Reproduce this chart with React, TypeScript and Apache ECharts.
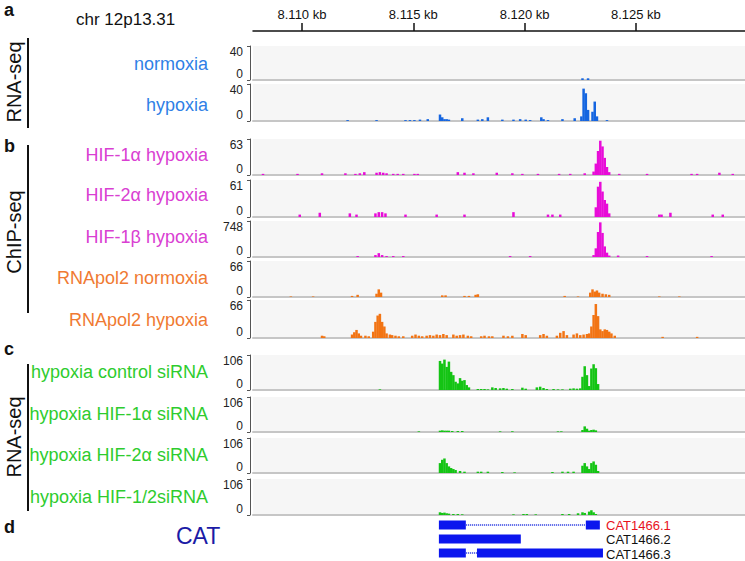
import React, { useEffect, useRef } from "react";
import * as echarts from "echarts";

// ---------- data (genomic position in kb, signal value) ----------
const axisTicksKb = [8110, 8115, 8120, 8125];
const trackNames = [
  "normoxia",
  "hypoxia",
  "HIF-1α hypoxia",
  "HIF-2α hypoxia",
  "HIF-1β hypoxia",
  "RNApol2 normoxia",
  "RNApol2 hypoxia",
  "hypoxia control siRNA",
  "hypoxia HIF-1α siRNA",
  "hypoxia HIF-2α siRNA",
  "hypoxia HIF-1/2siRNA",
];
const trackMax = [40, 40, 63, 61, 748, 66, 66, 106, 106, 106, 106];

const rnaNormoxia = [[8122.6, 2], [8122.85, 2]];
const rnaHypoxia = [
  [8112.05, 1], [8113.35, 1], [8114.65, 1], [8114.85, 1], [8115.05, 1], [8115.3, 1.5], [8115.65, 2],
  [8116.2, 7], [8116.3, 4], [8116.4, 2], [8116.5, 2], [8116.6, 1.5], [8117.2, 3],
  [8117.9, 1.5], [8118.1, 2], [8118.35, 4], [8119.0, 1.5], [8119.5, 1.5], [8119.8, 2], [8120.05, 1.5], [8120.25, 1],
  [8120.75, 4], [8120.85, 2], [8121.05, 1], [8121.7, 2], [8122.25, 3],
  [8122.55, 5], [8122.65, 35], [8122.75, 30], [8122.85, 12],
  [8123.05, 10], [8123.15, 21], [8123.25, 5], [8123.7, 1],
];
const hif1a = [
  [8108.25, 2], [8109.8, 2], [8110.9, 3], [8111.95, 3], [8112.4, 2], [8112.6, 3], [8112.8, 5], [8113.35, 4],
  [8113.5, 5], [8113.65, 4], [8113.8, 3], [8114.1, 2], [8114.3, 2], [8114.55, 2], [8115.05, 2], [8115.2, 2],
  [8117.0, 5], [8117.3, 4], [8117.7, 3], [8118.75, 4], [8119.45, 3], [8119.9, 2], [8120.6, 2], [8121.55, 2],
  [8122.05, 2], [8122.7, 3],
  [8123.1, 6], [8123.2, 20], [8123.3, 42], [8123.4, 60], [8123.5, 50], [8123.6, 30], [8123.7, 14], [8123.8, 5],
  [8124.25, 2], [8125.5, 2], [8127.5, 2], [8127.75, 2], [8128.75, 4], [8129.35, 2],
];
const hif2a = [
  [8109.9, 4], [8110.8, 7], [8112.15, 6], [8112.45, 4], [8113.3, 6], [8113.45, 8], [8113.6, 8], [8113.75, 6],
  [8114.65, 4], [8116.05, 4], [8117.3, 4], [8119.5, 8], [8121.05, 4], [8121.25, 4], [8121.6, 4],
  [8123.2, 16], [8123.3, 50], [8123.4, 58], [8123.5, 42], [8123.6, 28], [8123.7, 22], [8123.8, 6],
  [8126.05, 4], [8126.15, 4], [8126.55, 7], [8128.45, 4], [8128.9, 4],
];
const hif1b = [
  [8112.5, 20], [8113.3, 40], [8113.45, 80], [8113.6, 40], [8113.8, 20], [8114.1, 20], [8114.55, 20],
  [8119.35, 20], [8120.25, 20],
  [8123.1, 40], [8123.2, 180], [8123.3, 520], [8123.4, 720], [8123.5, 500], [8123.6, 220], [8123.7, 90], [8123.8, 30],
  [8124.2, 30], [8125.5, 20], [8128.4, 20],
];
const pol2Normoxia = [
  [8109.5, 1], [8110.5, 1], [8112.25, 2], [8112.5, 4], [8113.35, 6], [8113.45, 14], [8113.55, 8],
  [8116.3, 3], [8116.45, 3], [8117.3, 2], [8117.5, 2], [8117.8, 4], [8117.9, 5], [8121.8, 2], [8122.4, 1],
  [8122.95, 8], [8123.05, 14], [8123.15, 10], [8123.25, 12], [8123.35, 8], [8123.5, 6], [8123.65, 5], [8123.8, 4],
  [8126.05, 1], [8126.95, 1],
];
const pol2Hypoxia = [
  [8110.9, 4], [8111.0, 3], [8112.25, 6], [8112.35, 10], [8112.45, 14], [8112.55, 8], [8112.65, 4],
  [8112.85, 4], [8113.0, 3],
  [8113.2, 11], [8113.3, 28], [8113.4, 39], [8113.5, 42], [8113.6, 28], [8113.7, 20], [8113.8, 8],
  [8113.95, 6], [8114.05, 5], [8114.2, 4], [8114.35, 3], [8114.55, 3],
  [8114.95, 4], [8115.1, 6], [8115.25, 4], [8115.4, 3], [8115.6, 4], [8115.75, 5], [8115.9, 4], [8116.05, 6], [8116.2, 5],
  [8116.35, 7], [8116.5, 5], [8116.8, 6], [8116.95, 4], [8117.1, 5], [8117.25, 6], [8117.45, 4], [8117.6, 3],
  [8118.05, 3], [8118.2, 4], [8118.4, 3], [8118.55, 3], [8119.05, 4], [8119.25, 3], [8119.45, 4],
  [8119.9, 7], [8120.05, 5], [8120.7, 5], [8120.85, 7], [8121.0, 4],
  [8121.45, 4], [8121.6, 9], [8121.75, 12], [8121.9, 5],
  [8122.2, 6], [8122.35, 8], [8122.5, 5], [8122.65, 6], [8122.8, 7],
  [8122.9, 8], [8123.0, 20], [8123.1, 40], [8123.2, 59], [8123.3, 38], [8123.4, 15], [8123.5, 12], [8123.6, 15],
  [8123.7, 14], [8123.8, 11], [8123.9, 8], [8124.05, 4], [8126.2, 2], [8127.75, 2],
];
const sirnaControl = [
  [8113.5, 2],
  [8116.2, 88], [8116.3, 80], [8116.4, 92], [8116.5, 70], [8116.6, 86], [8116.7, 55], [8116.8, 45], [8116.9, 25],
  [8117.0, 20], [8117.1, 36], [8117.2, 28], [8117.3, 30], [8117.4, 15], [8117.5, 8],
  [8117.9, 3], [8118.05, 3], [8118.2, 3], [8118.35, 2], [8118.55, 8], [8118.7, 6], [8118.9, 5], [8119.05, 6],
  [8119.2, 4], [8119.45, 3], [8119.9, 7], [8120.05, 4], [8120.55, 8], [8120.7, 10], [8120.85, 6], [8121.0, 3],
  [8121.3, 3], [8121.5, 2], [8121.7, 2], [8122.05, 4], [8122.2, 5], [8122.35, 4], [8122.5, 5],
  [8122.6, 40], [8122.7, 72], [8122.8, 45], [8122.9, 12], [8123.0, 65], [8123.1, 78], [8123.2, 66], [8123.3, 18],
];
const sirnaHif1a = [
  [8115.25, 2], [8116.2, 4], [8116.3, 5], [8116.4, 4], [8116.5, 4], [8116.6, 4], [8116.75, 3], [8117.0, 3], [8117.2, 3],
  [8118.9, 2], [8119.45, 2], [8121.5, 2], [8121.65, 2],
  [8122.6, 6], [8122.7, 17], [8122.8, 10], [8122.9, 4], [8123.0, 6], [8123.1, 7], [8123.2, 5],
];
const sirnaHif2a = [
  [8116.2, 30], [8116.3, 40], [8116.4, 44], [8116.5, 30], [8116.6, 20], [8116.7, 15], [8116.8, 12], [8116.9, 9],
  [8117.1, 6], [8117.3, 4], [8117.9, 4], [8118.05, 4], [8118.35, 4], [8119.0, 3], [8119.55, 2],
  [8121.25, 3], [8121.7, 4], [8121.95, 4], [8122.2, 4],
  [8122.6, 22], [8122.7, 30], [8122.8, 20], [8122.9, 12], [8123.0, 30], [8123.1, 35], [8123.2, 25], [8123.3, 6],
];
const sirnaHif12 = [
  [8116.2, 8], [8116.3, 6], [8116.4, 7], [8116.5, 5], [8116.6, 4], [8116.8, 3], [8117.0, 3], [8117.2, 2],
  [8119.5, 2], [8119.95, 3], [8120.1, 3], [8120.5, 2], [8121.7, 3], [8122.0, 3], [8122.4, 5],
  [8122.6, 8], [8122.7, 6], [8122.9, 10], [8123.0, 14], [8123.1, 8], [8123.2, 3],
];
const trackData = [
  rnaNormoxia, rnaHypoxia, hif1a, hif2a, hif1b, pol2Normoxia, pol2Hypoxia,
  sirnaControl, sirnaHif1a, sirnaHif2a, sirnaHif12,
];

// gene models: [start kb, end kb, transcript row]
const transcriptNames = ["CAT1466.1", "CAT1466.2", "CAT1466.3"];
const geneExons = [
  [8116.15, 8117.36, 0], [8122.75, 8123.38, 0],
  [8116.15, 8119.83, 1],
  [8116.15, 8117.36, 2], [8117.86, 8123.52, 2],
];
const geneIntrons = [
  [8117.36, 8122.75, 0],
  [8117.36, 8117.86, 2],
];

// ---------- layout & style ----------
const X_MIN = 8107.8;
const X_MAX = 8129.9;
const GRID_LEFT = 253;
const GRID_WIDTH = 492;
const FONT = "'Liberation Sans', Arial, Helvetica, sans-serif";
const trackTop = [46, 84, 139, 180, 221, 261, 300, 355, 397, 438, 479];
const trackHeight = [34, 37, 36, 37, 36, 36, 38, 35, 35, 35, 36];
const labelY = [64, 105, 155, 195, 237, 278, 320, 372, 414, 455, 497];
const BLUE_L = "#2f7fe6", BLUE_B = "#1565e0";
const MAG_L = "#d940d2", MAG_B = "#e80cd8";
const ORA_L = "#f07a32", ORA_B = "#f27414";
const GRN_L = "#2ecc2e", GRN_B = "#14c414";
const labelColor = [BLUE_L, BLUE_L, MAG_L, MAG_L, MAG_L, ORA_L, ORA_L, GRN_L, GRN_L, GRN_L, GRN_L];
const barColor = [BLUE_B, BLUE_B, MAG_B, MAG_B, MAG_B, ORA_B, ORA_B, GRN_B, GRN_B, GRN_B, GRN_B];
const transcriptColor = ["#e8121c", "#111111", "#111111"];
const transcriptY = [525, 539, 554];

export default function App() {
  const ref = useRef<HTMLDivElement>(null);
  useEffect(() => {
    if (!ref.current) return;
    const chart = echarts.init(ref.current, null, { renderer: "svg" });
    const n = trackNames.length;
    const grids: any[] = [];
    const xAxes: any[] = [];
    const yAxes: any[] = [];
    const series: any[] = [];

    for (let i = 0; i < n; i++) {
      grids.push({
        left: GRID_LEFT, width: GRID_WIDTH, top: trackTop[i], height: trackHeight[i],
        show: true, backgroundColor: "#f6f6f6", borderWidth: 0,
      });
      xAxes.push({
        type: "value", gridIndex: i, min: X_MIN, max: X_MAX,
        axisLine: { show: true, onZero: false, lineStyle: { color: "#c6c6c6", width: 2 } },
        axisTick: { show: false }, axisLabel: { show: false }, splitLine: { show: false },
      });
      yAxes.push({
        type: "value", gridIndex: i, min: 0, max: trackMax[i], interval: trackMax[i], offset: 3,
        axisLine: { show: true, onZero: false, lineStyle: { color: "#555", width: 1 } },
        axisTick: { show: true, length: 3, lineStyle: { color: "#555", width: 1 } },
        axisLabel: {
          fontSize: 12, color: "#222", fontFamily: FONT, margin: 7,
          verticalAlignMaxLabel: "top", verticalAlignMinLabel: "bottom",
        },
        splitLine: { show: false },
      });
      series.push({
        type: "bar", xAxisIndex: i, yAxisIndex: i, data: trackData[i],
        barWidth: 2.5, itemStyle: { color: barColor[i] }, silent: true,
      });
    }

    // gene model grid
    const gi = n;
    grids.push({ left: GRID_LEFT, width: GRID_WIDTH, top: 518, height: 42, show: false });
    xAxes.push({ type: "value", gridIndex: gi, min: X_MIN, max: X_MAX, show: false });
    yAxes.push({ type: "value", gridIndex: gi, min: -0.5, max: 2.5, inverse: true, show: false });
    const geneData = [
      ...geneExons.map((e) => [e[0], e[1], e[2], 1]),
      ...geneIntrons.map((e) => [e[0], e[1], e[2], 0]),
    ];
    series.push({
      type: "custom", xAxisIndex: gi, yAxisIndex: gi, data: geneData, silent: true,
      encode: { x: [0, 1], y: 2 },
      renderItem: (params: any, api: any) => {
        const s = api.coord([api.value(0), api.value(2)]);
        const e = api.coord([api.value(1), api.value(2)]);
        if (api.value(3) === 1) {
          return {
            type: "rect",
            shape: { x: s[0], y: s[1] - 4.5, width: e[0] - s[0], height: 9 },
            style: { fill: "#0b16ee" },
          };
        }
        return {
          type: "line",
          shape: { x1: s[0], y1: s[1], x2: e[0], y2: e[1] },
          style: { stroke: "#4a58e6", lineWidth: 2, lineDash: [1, 1] },
        };
      },
    });

    // top coordinate axis
    const ai = n + 1;
    grids.push({ left: GRID_LEFT, width: GRID_WIDTH, top: 31, height: 5, show: false });
    xAxes.push({
      type: "value", gridIndex: ai, position: "top", min: X_MIN, max: X_MAX,
      axisLine: { show: true, onZero: false, lineStyle: { color: "#111", width: 1.5 } },
      axisTick: { show: true, inside: false, length: 8, customValues: axisTicksKb, lineStyle: { color: "#111", width: 1.5 } },
      axisLabel: {
        show: true, customValues: axisTicksKb, margin: 10, fontSize: 13, color: "#111", fontFamily: FONT,
        formatter: (v: number) => (v / 1000).toFixed(3) + " kb",
      },
      splitLine: { show: false },
    });
    yAxes.push({ type: "value", gridIndex: ai, show: false, min: 0, max: 1 });

    const graphics: any[] = [];
    const txt = (text: string, x: number, y: number, opts: any = {}) => ({
      type: "text", x, y, rotation: opts.rotation || 0, silent: true,
      style: {
        text, x: 0, y: 0, fill: opts.color || "#111",
        font: `${opts.weight || "normal"} ${opts.size || 17}px ${FONT}`,
        align: opts.align || "left", verticalAlign: "middle",
      },
    });
    // panel letters
    graphics.push(txt("a", 4, 10, { weight: "bold", size: 18 }));
    graphics.push(txt("b", 4, 146, { weight: "bold", size: 18 }));
    graphics.push(txt("c", 4, 349, { weight: "bold", size: 18 }));
    graphics.push(txt("d", 4, 527, { weight: "bold", size: 18 }));
    graphics.push(txt("chr 12p13.31", 76, 19, { size: 17 }));
    // section labels & lines
    graphics.push(txt("RNA-seq", 14, 82, { size: 20, align: "center", rotation: Math.PI / 2 }));
    graphics.push(txt("ChIP-seq", 14, 232, { size: 20, align: "center", rotation: Math.PI / 2 }));
    graphics.push(txt("RNA-seq", 14, 437, { size: 20, align: "center", rotation: Math.PI / 2 }));
    const vline = (y1: number, y2: number) => ({
      type: "line", silent: true, shape: { x1: 28, y1, x2: 28, y2 },
      style: { stroke: "#111", lineWidth: 2 },
    });
    graphics.push(vline(38, 128));
    graphics.push(vline(145, 313));
    graphics.push(vline(364, 511));
    // track names
    for (let i = 0; i < n; i++) {
      graphics.push(txt(trackNames[i], 208, labelY[i], { color: labelColor[i], align: "right", size: 18 }));
    }
    // gene
    graphics.push(txt("CAT", 176, 536, { color: "#1b1ba6", size: 23 }));
    for (let i = 0; i < transcriptNames.length; i++) {
      graphics.push(txt(transcriptNames[i], 606, transcriptY[i], { color: transcriptColor[i], size: 13 }));
    }

    chart.setOption({
      animation: false,
      backgroundColor: "#ffffff",
      grid: grids,
      xAxis: xAxes,
      yAxis: yAxes,
      series,
      graphic: graphics,
    });
    return () => chart.dispose();
  }, []);
  return (
    <div
      ref={ref}
      style={{ position: "absolute", left: 0, top: 0, width: 745, height: 561 }}
    />
  );
}
